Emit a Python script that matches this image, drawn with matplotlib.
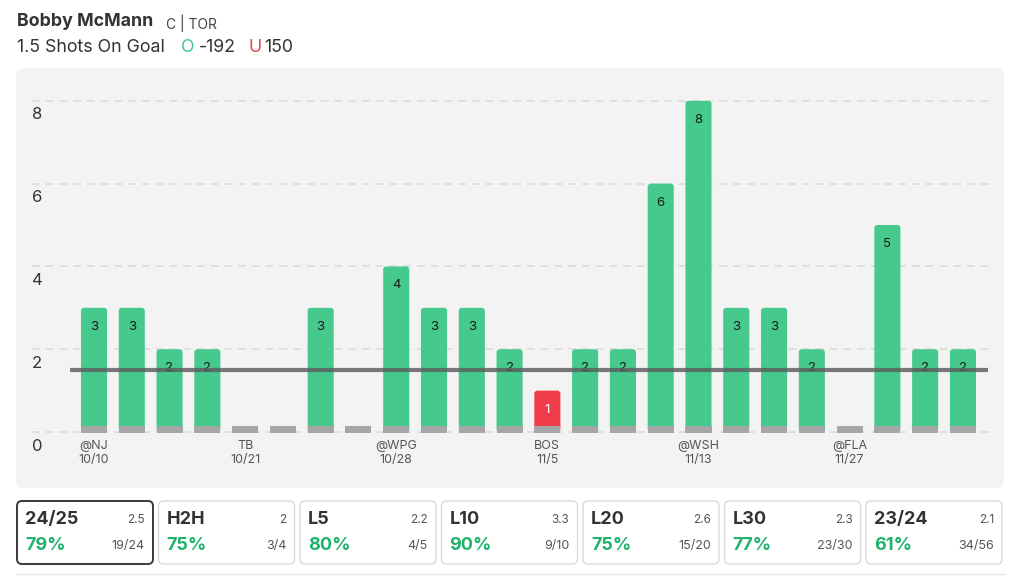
import matplotlib.pyplot as plt
from matplotlib.patches import FancyBboxPatch

plt.rcParams['font.family'] = ['Inter', 'DejaVu Sans']

# game log data
shots = [3, 3, 2, 2, 0, 0, 3, 0, 4, 3, 3, 2, 1, 2, 2, 6, 8, 3, 3, 2, 0, 5, 2, 2]
line_value = 1.5
tick_idx = [0, 4, 8, 12, 16, 20]
tick_labels = ['@NJ\n10/10', 'TB\n10/21', '@WPG\n10/28', 'BOS\n11/5', '@WSH\n11/13', '@FLA\n11/27']
y_ticks = [0, 2, 4, 6, 8]

# summary cards
card_titles = ['24/25', 'H2H', 'L5', 'L10', 'L20', 'L30', '23/24']
card_avgs = ['2.5', '2', '2.2', '3.3', '2.6', '2.3', '2.1']
card_pcts = ['79%', '75%', '80%', '90%', '75%', '77%', '61%']
card_fracs = ['19/24', '3/4', '4/5', '9/10', '15/20', '23/30', '34/56']

GREEN = '#45c98d'
RED = '#ef3d4b'
STUB = '#a6a6a6'
PCT_GREEN = '#1db36b'
DARK = '#333333'

W, H = 1024, 587
fig = plt.figure(figsize=(W / 100, H / 100), dpi=100)
fig.patch.set_facecolor('white')

# overlay in pixel coords (y down)
ov = fig.add_axes([0, 0, 1, 1], zorder=0)
ov.set_xlim(0, W)
ov.set_ylim(H, 0)
ov.axis('off')

ov.add_patch(FancyBboxPatch((16, 68), 988, 420, boxstyle='round,pad=0,rounding_size=8',
                            fc='#f3f3f3', ec='none'))

# header
ov.text(17, 22, 'Bobby McMann', fontsize=12.8, fontweight='bold', color=DARK, va='center')
ov.text(166, 23, 'C | TOR', fontsize=10, color='#444444', va='center')
ov.text(17, 47, '1.5 Shots On Goal', fontsize=12.8, color=DARK, va='center')
ov.text(181, 47, 'O', fontsize=12.8, color=GREEN, va='center')
ov.text(199, 47, '-192', fontsize=12.8, color=DARK, va='center')
ov.text(248, 47, 'U', fontsize=12.8, color=RED, va='center')
ov.text(264, 47, '150', fontsize=12.8, color=DARK, va='center')

# cards
for i in range(len(card_titles)):
    x0 = 17 + i * 141.5
    first = i == 0
    ov.add_patch(FancyBboxPatch((x0, 501), 136, 63, boxstyle='round,pad=0,rounding_size=5',
                                fc='white', ec='#3a3a3a' if first else '#d9d9d9',
                                lw=1.4 if first else 1.0))
    ov.text(x0 + 8, 520, card_titles[i], fontsize=13, fontweight='bold', color=DARK, va='center')
    ov.text(x0 + 128, 520, card_avgs[i], fontsize=8.5, color='#555555', va='center', ha='right')
    ov.text(x0 + 8, 546, card_pcts[i], fontsize=13, fontweight='bold', color=PCT_GREEN, va='center')
    ov.text(x0 + 128, 546, card_fracs[i], fontsize=9, color='#555555', va='center', ha='right')

ov.plot([16, 1004], [574, 574], color='#e6e6e6', lw=1)

# chart axes
ax = fig.add_axes([32 / W, 1 - 460 / H, (990 - 32) / W, (460 - 90) / H], zorder=1)
ax.set_facecolor('none')
ax.set_xlim(-1.641, 23.716)
ax.set_ylim(-0.676, 8.261)
for s in ax.spines.values():
    s.set_visible(False)
ax.set_xticks([])
ax.set_yticks([])

for v in y_ticks:
    ax.axhline(v, color='#d9d9d9', lw=1.1, dashes=(5, 4), zorder=0)
    ax.text(0.0, v - 0.34, str(v), transform=ax.get_yaxis_transform(), fontsize=12,
            color=DARK, va='center', ha='left')

xs = list(range(len(shots)))
colors = [GREEN if v > line_value else RED for v in shots]
bw = 0.69
bars = ax.bar(xs, shots, width=bw, color=colors, zorder=2)
# swap plain rectangles for ones with rounded corners
for b in bars:
    if b.get_height() > 0:
        ax.add_patch(FancyBboxPatch((b.get_x(), b.get_y()), b.get_width(), b.get_height(),
                                    boxstyle='round,pad=0,rounding_size=0.08',
                                    mutation_aspect=0.912, fc=b.get_facecolor(), ec='none',
                                    zorder=2))
    b.remove()
ax.bar(xs, [0.17] * len(xs), bottom=-0.02, width=bw, color=STUB, zorder=3)

for x, v in zip(xs, shots):
    if v > 0:
        ax.text(x, v - 0.46, str(v), ha='center', va='center', fontsize=9.5,
                color='white' if v <= line_value else '#1a1a1a', zorder=4)

ax.plot([-0.635, 23.66], [line_value, line_value], color='#5a5a5a', lw=3, alpha=0.8, zorder=5,
        solid_capstyle='butt')

for i, lab in zip(tick_idx, tick_labels):
    ax.text(i, -0.2, lab, ha='center', va='top', fontsize=9, color='#555555', linespacing=1.15)

fig.savefig('out.png', dpi=100)
